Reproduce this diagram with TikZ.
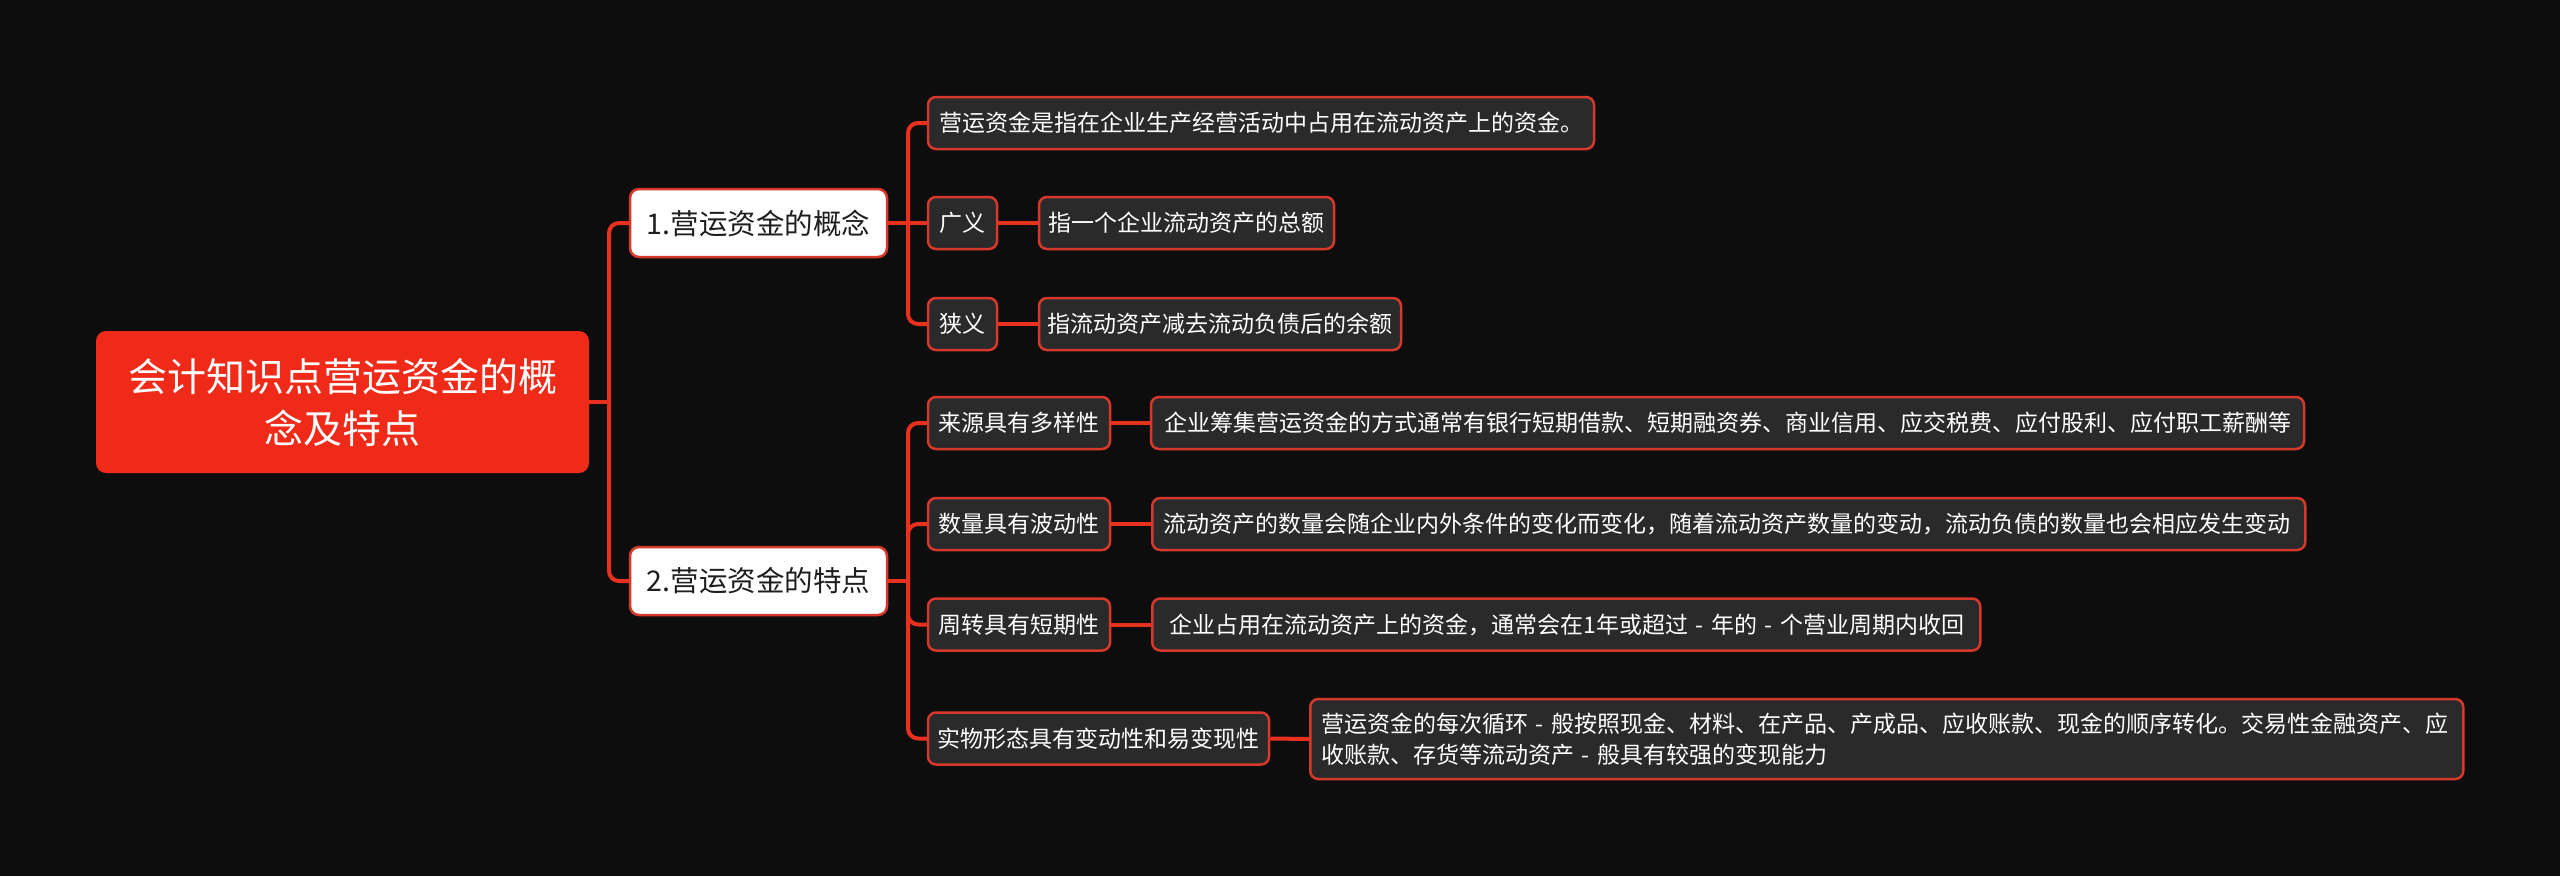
\documentclass[tikz,border=0pt]{standalone}
\usepackage{fontspec}
\newfontfamily\cjk{Noto Sans CJK SC}
\definecolor{bgc}{RGB}{13,13,13}
\definecolor{linec}{RGB}{232,48,30}
\definecolor{rootc}{RGB}{240,42,24}
\definecolor{boxc}{RGB}{42,42,42}
\definecolor{bordc}{RGB}{214,56,44}
\definecolor{darktext}{RGB}{30,30,30}
\begin{document}
\begin{tikzpicture}[x=1pt,y=-1pt,
  rootbox/.style={fill=rootc, rounded corners=10pt, text=white, align=center, inner sep=0pt,
    minimum width=493pt, minimum height=142pt, font=\cjk\fontsize{39}{52}\selectfont},
  branchbox/.style={fill=white, draw=bordc, line width=2.5pt, rounded corners=9pt, text=darktext,
    minimum width=257pt, minimum height=68pt, inner sep=0pt, font=\cjk\fontsize{28.5}{34}\selectfont},
  leafbox/.style={fill=boxc, draw=bordc, line width=2.5pt, rounded corners=8pt, text=white,
    minimum height=52pt, inner xsep=11pt, inner ysep=0pt, font=\cjk\fontsize{23}{31}\selectfont},
  conn/.style={draw=linec, line width=4pt, rounded corners=10pt}
]
\fill[bgc] (0,0) rectangle (2560,876);
\useasboundingbox (0,0) rectangle (2560,876);

% root and branches
\node[rootbox] (root) at (342.5,402) {会计知识点营运资金的概\\念及特点};
\node[branchbox] (b1) at (758.5,223) {1.营运资金的概念};
\node[branchbox] (b2) at (758.5,581) {2.营运资金的特点};

% group 1
\node[leafbox, minimum width=666pt] (c0) at (1261,123) {营运资金是指在企业生产经营活动中占用在流动资产上的资金。};
\node[leafbox, minimum width=69pt, inner xsep=0pt] (gy) at (962.5,223) {广义};
\node[leafbox, minimum width=295pt, inner xsep=0pt] (gyd) at (1186.5,223) {指一个企业流动资产的总额};
\node[leafbox, minimum width=69pt, inner xsep=0pt] (xy) at (962.5,324) {狭义};
\node[leafbox, minimum width=362pt, inner xsep=0pt] (xyd) at (1220,324) {指流动资产减去流动负债后的余额};

% group 2
\node[leafbox, minimum width=182pt, inner xsep=0pt] (s1) at (1019,423) {来源具有多样性};
\node[leafbox, minimum width=1153pt, inner xsep=0pt] (s1d) at (1727.5,423) {企业筹集营运资金的方式通常有银行短期借款、短期融资券、商业信用、应交税费、应付股利、应付职工薪酬等};
\node[leafbox, minimum width=182pt, inner xsep=0pt] (s2) at (1019,524) {数量具有波动性};
\node[leafbox, anchor=west, text width=1131pt, align=left] (s2d) at (1151,524) {流动资产的数量会随企业内外条件的变化而变化，随着流动资产数量的变动，流动负债的数量也会相应发生变动};
\node[leafbox, minimum width=182pt, inner xsep=0pt] (s3) at (1019,624.5) {周转具有短期性};
\node[leafbox, anchor=west, text width=806pt, align=left] (s3d) at (1151,624.5) {\hspace*{6pt}企业占用在流动资产上的资金，通常会在1年或超过~-~年的~-~个营业周期内收回};
\node[leafbox, minimum width=341pt, inner xsep=0pt] (s4) at (1098.5,738.5) {实物形态具有变动性和易变现性};
\node[leafbox, anchor=west, text width=1131pt, align=left, minimum height=80pt] (s4d) at (1309,739) {营运资金的每次循环~-~般按照现金、材料、在产品、产成品、应收账款、现金的顺序转化。交易性金融资产、应\\收账款、存货等流动资产~-~般具有较强的变现能力};

% connectors
\coordinate (t0) at (609,402);
\coordinate (t1) at (908,223);
\coordinate (t2) at (908,581);
\draw[conn] (root.east) -- (t0);
\draw[conn] (b1.west) -| (t0) |- (b2.west);

\draw[conn] (b1.east) -- (gy.west);
\draw[conn] (c0.west) -| (t1) |- (xy.west);
\draw[conn] (gy.east) -- (gyd.west);
\draw[conn] (xy.east) -- (xyd.west);

\draw[conn] (b2.east) -- (t2);
\draw[conn] (s1.west) -| (t2) |- (s4.west);
\draw[conn] (s2.west) -| (t2);
\draw[conn] (s3.west) -| (t2);
\draw[conn] (s1.east) -- (s1d.west);
\draw[conn] (s2.east) -- (s2d.west);
\draw[conn] (s3.east) -- (s3d.west);
\draw[conn] (s4.east) -- (s4d.west);

% redraw nodes above connectors
\end{tikzpicture}
\end{document}
